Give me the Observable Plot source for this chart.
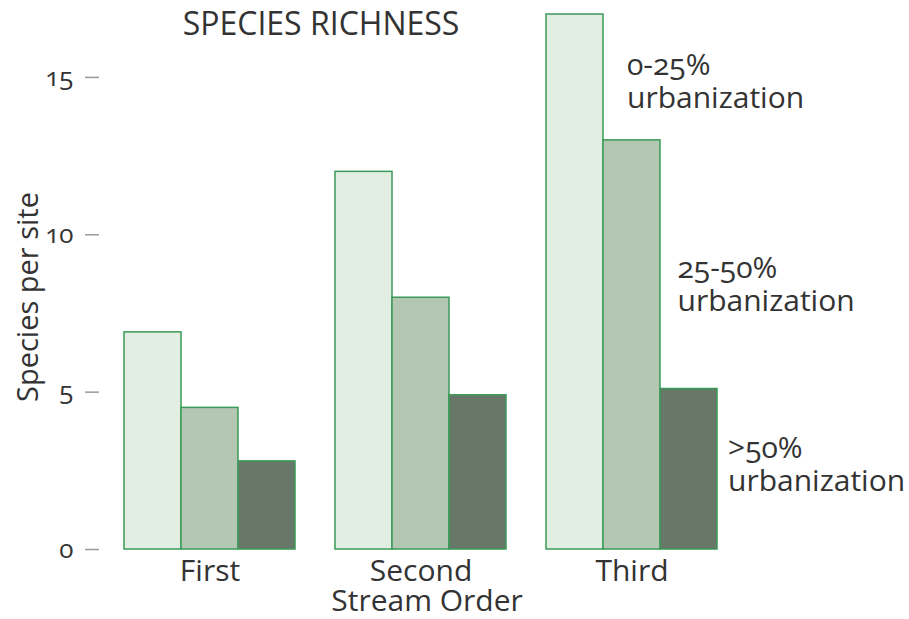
<!DOCTYPE html>
<html>
<head>
<meta charset="utf-8">
<script src="https://cdn.jsdelivr.net/npm/d3@7"></script>
<script src="https://cdn.jsdelivr.net/npm/@observablehq/plot@0.6"></script>
<style>
  html, body { margin: 0; padding: 0; background: #fff; }
  svg text { font-variant-numeric: oldstyle-nums; }
</style>
</head>
<body>
<div id="chart"></div>
<script>
// ---- data ----
const orders = ["First", "Second", "Third"];
const levels = ["0-25%", "25-50%", ">50%"];
const lowUrban = [6.9, 12, 17];
const midUrban = [4.5, 8, 13];
const highUrban = [2.8, 4.9, 5.1];
const yTicks = [0, 5, 10, 15];
const title = "SPECIES RICHNESS";
const yLabel = "Species per site";
const xLabel = "Stream Order";
const levelLabels = ["0-25%\nurbanization", "25-50%\nurbanization", ">50%\nurbanization"];

const series = [lowUrban, midUrban, highUrban];
const rows = [];
orders.forEach((o, i) => levels.forEach((l, j) => rows.push({order: o, level: l, value: series[j][i]})));

const font = "'Open Sans', Lato, sans-serif";
const ink = "#333";

const chart = Plot.plot({
  width: 909,
  height: 619,
  marginTop: 14,
  marginBottom: 70,
  marginLeft: 123,
  marginRight: 192,
  style: {fontFamily: font, fontSize: "30px", color: ink, background: "#fff"},
  fx: {domain: orders, paddingInner: 0.19, paddingOuter: 0, axis: null, label: null},
  x: {domain: levels, padding: 0, axis: null},
  y: {domain: [0, 17], axis: null},
  color: {domain: levels, range: ["#e3eee2", "#b4c7b2", "#677868"]},
  marks: [
    Plot.barY(rows, {fx: "order", x: "level", y: "value", fill: "level", stroke: "#3a9a58", strokeWidth: 1.5}),
    Plot.axisY({ticks: yTicks, tickSize: 14, tickPadding: 12, dx: -25, stroke: "#999", strokeWidth: 1.5,
      color: ink, label: null, fontSize: 26}),
    Plot.axisFx({anchor: "bottom", tickSize: 0, tickPadding: 10, label: null, color: ink}),
    Plot.text([{order: "Second", t: xLabel}], {fx: "order", text: "t", frameAnchor: "bottom", lineAnchor: "middle", dy: 52, dx: 6, fill: ink}),
    Plot.text([{order: "First", t: title}], {fx: "order", text: "t", frameAnchor: "top", lineAnchor: "middle", dy: 10, dx: 111, fill: ink, fontSize: 32}),
    Plot.text([{order: "First", t: yLabel}], {fx: "order", text: "t", frameAnchor: "left", textAnchor: "middle", rotate: -90, dx: -96, dy: 15, fill: ink, fontSize: 29}),
    Plot.text([{order: "Third", level: levels[0], t: levelLabels[0]}], {fx: "order", x: "level", y: () => 14.9, text: "t",
      textAnchor: "start", dx: 52, lineHeight: 1.1, fill: ink}),
    Plot.text([{order: "Third", level: levels[1], t: levelLabels[1]}], {fx: "order", x: "level", y: () => 8.45, text: "t",
      textAnchor: "start", dx: 45.5, lineHeight: 1.1, fill: ink}),
    Plot.text([{order: "Third", level: levels[2], t: levelLabels[2]}], {fx: "order", x: "level", y: () => 2.73, text: "t",
      textAnchor: "start", dx: 39, lineHeight: 1.1, fill: ink})
  ]
});
document.getElementById("chart").appendChild(chart);
</script>
</body>
</html>
